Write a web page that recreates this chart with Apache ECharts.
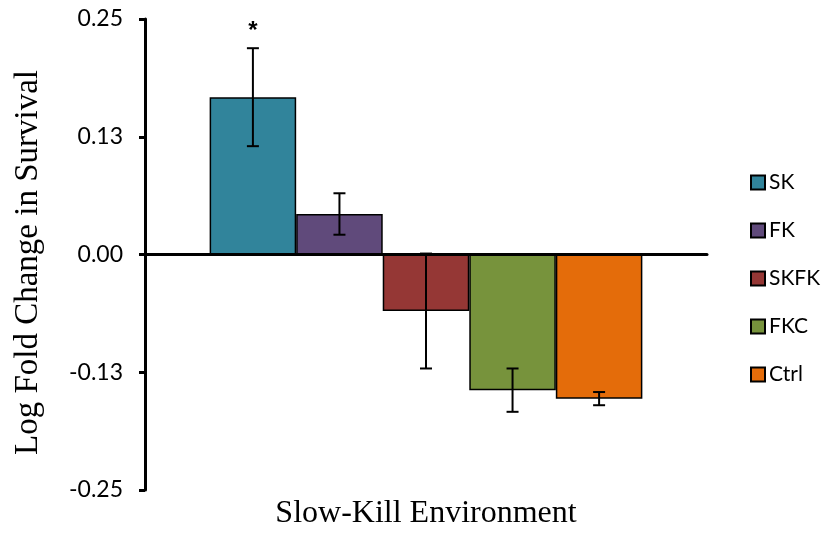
<!DOCTYPE html>
<html>
<head>
<meta charset="utf-8">
<script src="https://cdn.jsdelivr.net/npm/echarts@6/dist/echarts.min.js"></script>
<style>html,body{margin:0;padding:0;background:#fff}#c{width:827px;height:535px}</style>
</head>
<body>
<div id="c"></div>
<script>
var seriesNames = ['SK', 'FK', 'SKFK', 'FKC', 'Ctrl'];
var values = [0.167, 0.043, -0.060, -0.144, -0.153];
var errors = [0.052, 0.022, 0.061, 0.023, 0.007];
var marks = ['*', '', '', '', ''];
var colors = ['#31849B', '#604A7B', '#953735', '#77933C', '#E46C0A'];
var yTicks = [-0.25, -0.125, 0, 0.125, 0.25];
var xTitle = 'Slow-Kill Environment';
var yTitle = 'Log Fold Change in Survival';

var GAP = 0.23;
var chart = echarts.init(document.getElementById('c'));
var series = seriesNames.map(function (n, i) {
  return {
    name: n, type: 'bar', data: [values[i]],
    barGap: '0%', barCategoryGap: (GAP * 100) + '%',
    itemStyle: { color: colors[i], borderColor: '#000', borderWidth: 1.5 },
    emphasis: { disabled: true }
  };
});
series.push({
  type: 'custom', name: 'err', z: 10,
  data: values.map(function (v, i) { return [0, i, v, errors[i]]; }),
  renderItem: function (params, api) {
    var i = api.value(1), v = api.value(2), e = api.value(3);
    var bandW = api.size([1, 0])[0];
    var barW = bandW * (1 - GAP) / seriesNames.length;
    var top = api.coord([0, v + e]);
    var bot = api.coord([0, v - e]);
    var x = top[0] + (i - (seriesNames.length - 1) / 2) * barW;
    var cap = 6;
    var st = { stroke: '#000', lineWidth: 2 };
    var children = [
      { type: 'line', shape: { x1: x, y1: top[1], x2: x, y2: bot[1] }, style: st },
      { type: 'line', shape: { x1: x - cap, y1: top[1], x2: x + cap, y2: top[1] }, style: st },
      { type: 'line', shape: { x1: x - cap, y1: bot[1], x2: x + cap, y2: bot[1] }, style: st }
    ];
    if (marks[i]) {
      children.push({ type: 'text', style: { text: marks[i], x: x, y: top[1] - 17, align: 'center', verticalAlign: 'middle', fill: '#000', font: 'bold 24px "Liberation Sans"' } });
    }
    return { type: 'group', children: children };
  }
});

chart.setOption({
  animation: false,
  grid: { left: 145, right: 120, top: 19, bottom: 45 },
  legend: {
    data: seriesNames, orient: 'vertical', left: 745, top: 167,
    itemWidth: 14, itemHeight: 14, itemGap: 27,
    icon: 'rect',
    textStyle: { fontSize: 21, fontFamily: 'Lato', color: '#000', padding: [0, 0, 0, -1] }
  },
  title: {
    text: xTitle, left: 421, top: 493, textAlign: 'center',
    textStyle: { fontFamily: 'Liberation Serif', fontSize: 32, fontWeight: 'normal', color: '#000' }
  },
  xAxis: {
    type: 'category', data: [''],
    axisLine: { onZero: true, lineStyle: { color: '#000', width: 3 } },
    axisTick: { show: false }, axisLabel: { show: false }
  },
  yAxis: {
    type: 'value', min: yTicks[0], max: yTicks[yTicks.length - 1], interval: 0.125,
    name: yTitle, nameLocation: 'middle', nameGap: 100,
    nameTextStyle: { fontFamily: 'Liberation Serif', fontSize: 33, color: '#000', padding: [0, 16, 0, 0] },
    axisLine: { show: true, lineStyle: { color: '#000', width: 3 } },
    axisTick: { show: true, length: 6, lineStyle: { color: '#000', width: 3 } },
    splitLine: { show: false },
    axisLabel: { margin: 22, fontSize: 23, fontFamily: 'Lato', color: '#000',
      formatter: function (v) { return v.toFixed(2); } }
  },
  series: series
});
</script>
</body>
</html>
